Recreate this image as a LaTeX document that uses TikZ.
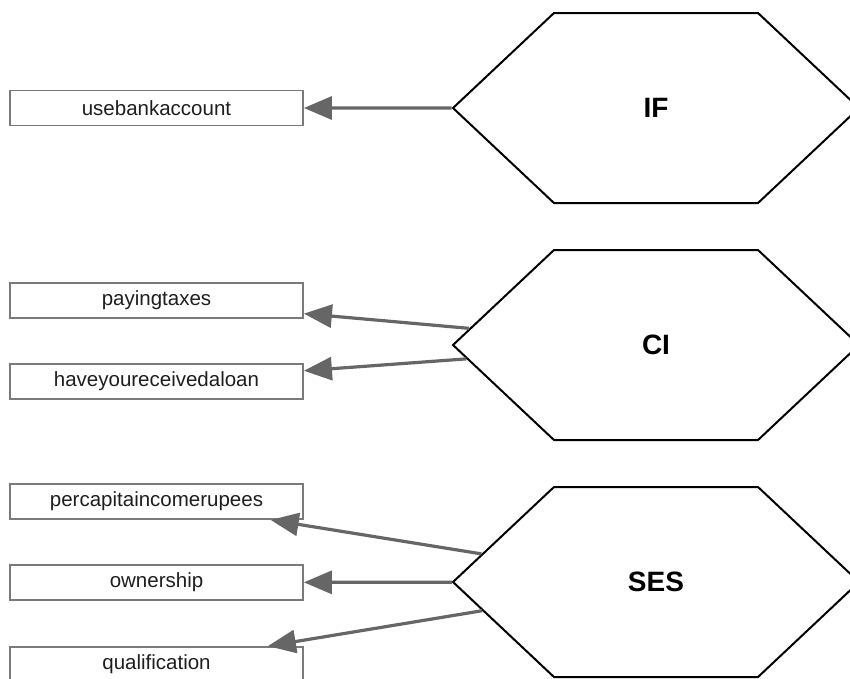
\documentclass[tikz,border=0pt]{standalone}
\usepackage{fontspec}
\setmainfont{Liberation Sans}
\usetikzlibrary{shapes.symbols,arrows.meta}
\definecolor{boxgray}{HTML}{7A7A7A}
\definecolor{arrowgray}{HTML}{666666}
\definecolor{textgray}{HTML}{1E1E1E}
\tikzset{latent/.style={signal,signal to=east and west,
    signal pointer angle=86.5,draw=black,line width=2pt,
    minimum width=406pt,minimum height=190pt,inner sep=0pt,
    font=\fontsize{28}{32}\selectfont\bfseries}}

\begin{document}
\begin{tikzpicture}[x=1pt,y=-1pt,
    item/.style={draw=boxgray,line width=1.8pt,text=textgray,
        minimum width=293pt,minimum height=35pt,inner sep=0pt,
        font=\fontsize{20.5}{24}\selectfont}]
        \clip (0,0) rectangle (850,678);

        \node[latent] (IF) at (656,108) {IF};
        \node[latent] (CI) at (656,345) {CI};
        \node[latent] (SES) at (656,582) {SES};

        \node[item] (bank) at (156.5,108) {usebankaccount};
        \node[item] (taxes) at (156.5,300.5) {payingtaxes};
        \node[item] (loan) at (156.5,381.5) {haveyoureceivedaloan};
        \node[item] (income) at (156.5,501.5) {percapitaincomerupees};
        \node[item] (owner) at (156.5,582.5) {ownership};
        \node[item] (qual) at (156.5,664.5) {qualification};

        \path[->,color=arrowgray,line width=3.2pt,
            >={Triangle[length=28pt,width=23pt]}]
        (IF) edge (bank)
        (CI) edge (taxes)
        (CI) edge (loan)
        (SES) edge (income)
        (SES) edge (owner)
        (SES) edge (qual);
\end{tikzpicture}
\end{document}
